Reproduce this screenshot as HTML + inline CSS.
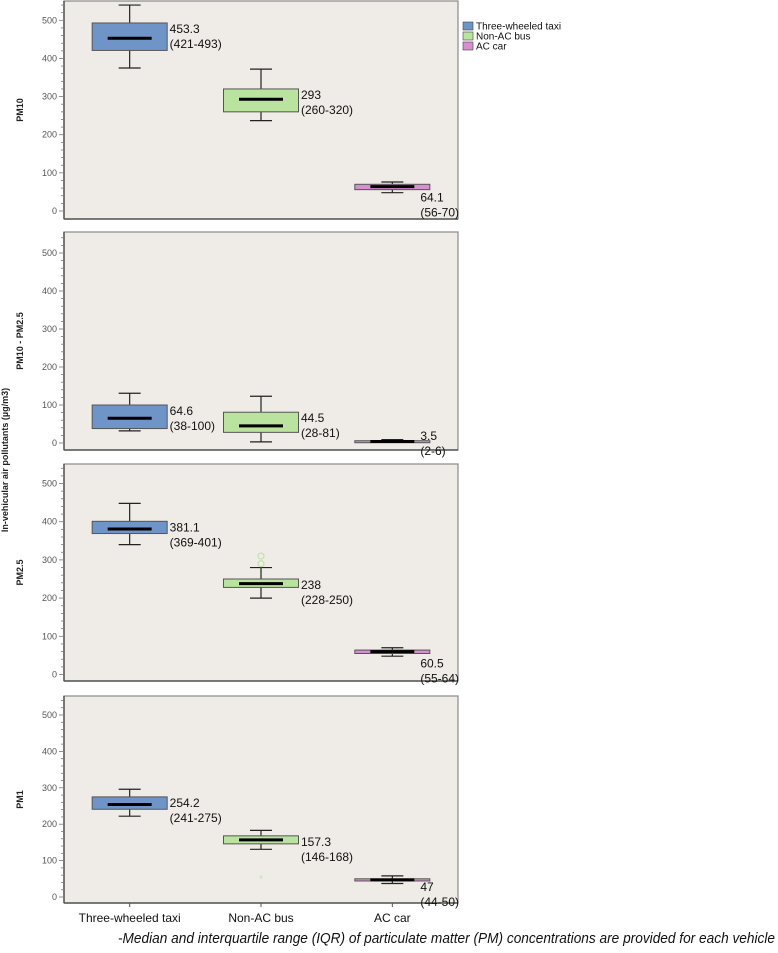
<!DOCTYPE html>
<html><head><meta charset="utf-8"><style>
body{margin:0;background:#fff;}
svg{display:block;font-family:"Liberation Sans",sans-serif;}
</style></head><body>
<svg id="chart" width="778" height="953" xmlns="http://www.w3.org/2000/svg"></svg>
<script>
const categories = ["Three-wheeled taxi","Non-AC bus","AC car"];
const colors = ["#6f95c8","#b9e39e","#d68fcf"];
const panelNames = ["PM10","PM10 - PM2.5","PM2.5","PM1"];
// [whiskerLow, q1, median, q3, whiskerHigh] per category per panel
const pm10Stats = [[375,421,453,493,540],[237,260,293,320,372],[48,56,64,70,76]];
const diffStats = [[32,38,65,100,131],[3,28,45,81,123],[2,3,4,6,9]];
const pm25Stats = [[340,369,381,401,448],[200,228,238,250,280],[48,55,60,64,70]];
const pm1Stats = [[222,241,254,275,296],[131,146,157,168,183],[37,44,47,50,58]];
const pm10Labels = [["453.3","(421-493)"],["293","(260-320)"],["64.1","(56-70)"]];
const diffLabels = [["64.6","(38-100)"],["44.5","(28-81)"],["3.5","(2-6)"]];
const pm25Labels = [["381.1","(369-401)"],["238","(228-250)"],["60.5","(55-64)"]];
const pm1Labels = [["254.2","(241-275)"],["157.3","(146-168)"],["47","(44-50)"]];
const pm25Outliers = [[],[290,310],[]];
const pm1Outliers = [[],[50],[]];
const yTicks = [0,100,200,300,400,500];

const stats=[pm10Stats,diffStats,pm25Stats,pm1Stats];
const labels=[pm10Labels,diffLabels,pm25Labels,pm1Labels];
const outliers=[[[],[],[]],[[],[],[]],pm25Outliers,pm1Outliers];
const geom=[{top:1,bot:219,y0:211,y500:20.3,carOff:8},{top:232,bot:450,y0:443,y500:253,carOff:-6},{top:464,bot:681,y0:674.5,y500:483.5,carOff:10},{top:696,bot:903,y0:897,y500:715,carOff:6}];
const X0=64,X1=458;
const svg=document.getElementById('chart');
const NS="http://www.w3.org/2000/svg";
function mk(tag,attrs,parent){const e=document.createElementNS(NS,tag);for(const k in attrs)e.setAttribute(k,attrs[k]);(parent||svg).appendChild(e);return e;}
function xPos(i){return X0+(X1-X0)*(i+0.5)/categories.length;}

geom.forEach((g,p)=>{
  const yS=v=>g.y0+(g.y500-g.y0)*v/500;
  const grp=mk('g',{});
  
  
  const bg=mk('rect',{x:X0,y:g.top,width:X1-X0,height:g.bot-g.top,fill:'#efebe6',stroke:'#8a8a8a','stroke-width':1.2},grp);
  
  
  mk('line',{x1:X0,y1:g.top,x2:X0,y2:g.bot,stroke:'#555','stroke-width':1.5},grp);
  mk('line',{x1:X0,y1:g.bot,x2:X1,y2:g.bot,stroke:'#555','stroke-width':1.5},grp);
  for(let v=0;v<=540;v+=20){const y=yS(v);if(y<g.top)break;const maj=v%100===0;
    mk('line',{x1:maj?59:61,y1:y,x2:X0,y2:y,stroke:'#777','stroke-width':0.8},grp);}
  yTicks.forEach(v=>{const t=mk('text',{x:57,y:yS(v)+3,'text-anchor':'end','font-size':9,fill:'#555'},grp);t.textContent=v;
    
    });
  const cy=(g.top+g.bot)/2;
  const pl=mk('text',{x:0,y:0,transform:`translate(23,${cy}) rotate(-90)`,'text-anchor':'middle','font-size':9,'font-weight':'bold',fill:'#222'},grp);
  pl.textContent=panelNames[p];
  
  
  stats[p].forEach((s,i)=>{
    const cx=xPos(i);const [wl,q1,md,q3,wh]=s;
    const b=mk('g',{},grp);
    
    
    mk('line',{x1:cx,y1:yS(wh),x2:cx,y2:yS(q3),stroke:'#222','stroke-width':1.2},b);
    mk('line',{x1:cx,y1:yS(q1),x2:cx,y2:yS(wl),stroke:'#222','stroke-width':1.2},b);
    mk('line',{x1:cx-11,y1:yS(wh),x2:cx+11,y2:yS(wh),stroke:'#222','stroke-width':1.2},b);
    mk('line',{x1:cx-11,y1:yS(wl),x2:cx+11,y2:yS(wl),stroke:'#222','stroke-width':1.2},b);
    mk('rect',{x:cx-37.5,y:yS(q3),width:75,height:Math.max(yS(q1)-yS(q3),2),fill:colors[i],stroke:'#555','stroke-width':1},b);
    mk('line',{x1:cx-22,y1:yS(md),x2:cx+22,y2:yS(md),stroke:'#000','stroke-width':3},b);
    outliers[p][i].forEach(o=>{
      if(p===3){const st=mk('text',{x:cx,y:yS(o)+3,'text-anchor':'middle','font-size':9,fill:'#b9e39e'},b);st.textContent='*';}
      else mk('circle',{cx:cx,cy:yS(o),r:3,fill:'none',stroke:'#b9e39e','stroke-width':1},b);
    });
    const lab=labels[p][i];
    let lx,ly;
    if(i<2){lx=cx+40;ly=yS(q3)+10;}else{lx=cx+28;ly=yS(q1)+g.carOff+4;}
    const t1=mk('text',{x:lx,y:ly,'font-size':12,fill:'#111'},b);t1.textContent=lab[0];
    
    
    const t2=mk('text',{x:lx,y:ly+15,'font-size':12,fill:'#111'},b);t2.textContent=lab[1];
    
    
  });
  if(p===3){categories.forEach((c,i)=>{mk('line',{x1:xPos(i),y1:g.bot,x2:xPos(i),y2:g.bot+4,stroke:'#555'},grp);
    const t=mk('text',{x:xPos(i),y:922,'text-anchor':'middle','font-size':12,fill:'#111'},grp);t.textContent=c;
    
    });}
});
const yt=mk('text',{x:0,y:0,transform:'translate(8,460) rotate(-90)','text-anchor':'middle','font-size':9,'font-weight':'bold',fill:'#222'});
yt.textContent='In-vehicular air pollutants (µg/m3)';


const lg=mk('g',{});


["Three-wheeled taxi","Non-AC bus","AC car"].forEach((c,i)=>{
  const e=mk('g',{},lg);
  
  
  mk('rect',{x:463,y:22+i*10,width:10,height:8,fill:colors[i],stroke:'#444','stroke-width':0.6},e);
  const t=mk('text',{x:476,y:29.5+i*10,'font-size':10,fill:'#111'},e);t.textContent=c;
});
const cap=mk('text',{x:118,y:943,'font-size':14.5,'font-style':'italic',fill:'#111',textLength:657,lengthAdjust:'spacingAndGlyphs'});
cap.textContent='-Median and interquartile range (IQR) of particulate matter (PM) concentrations are provided for each vehicle';


</script>
</body></html>
